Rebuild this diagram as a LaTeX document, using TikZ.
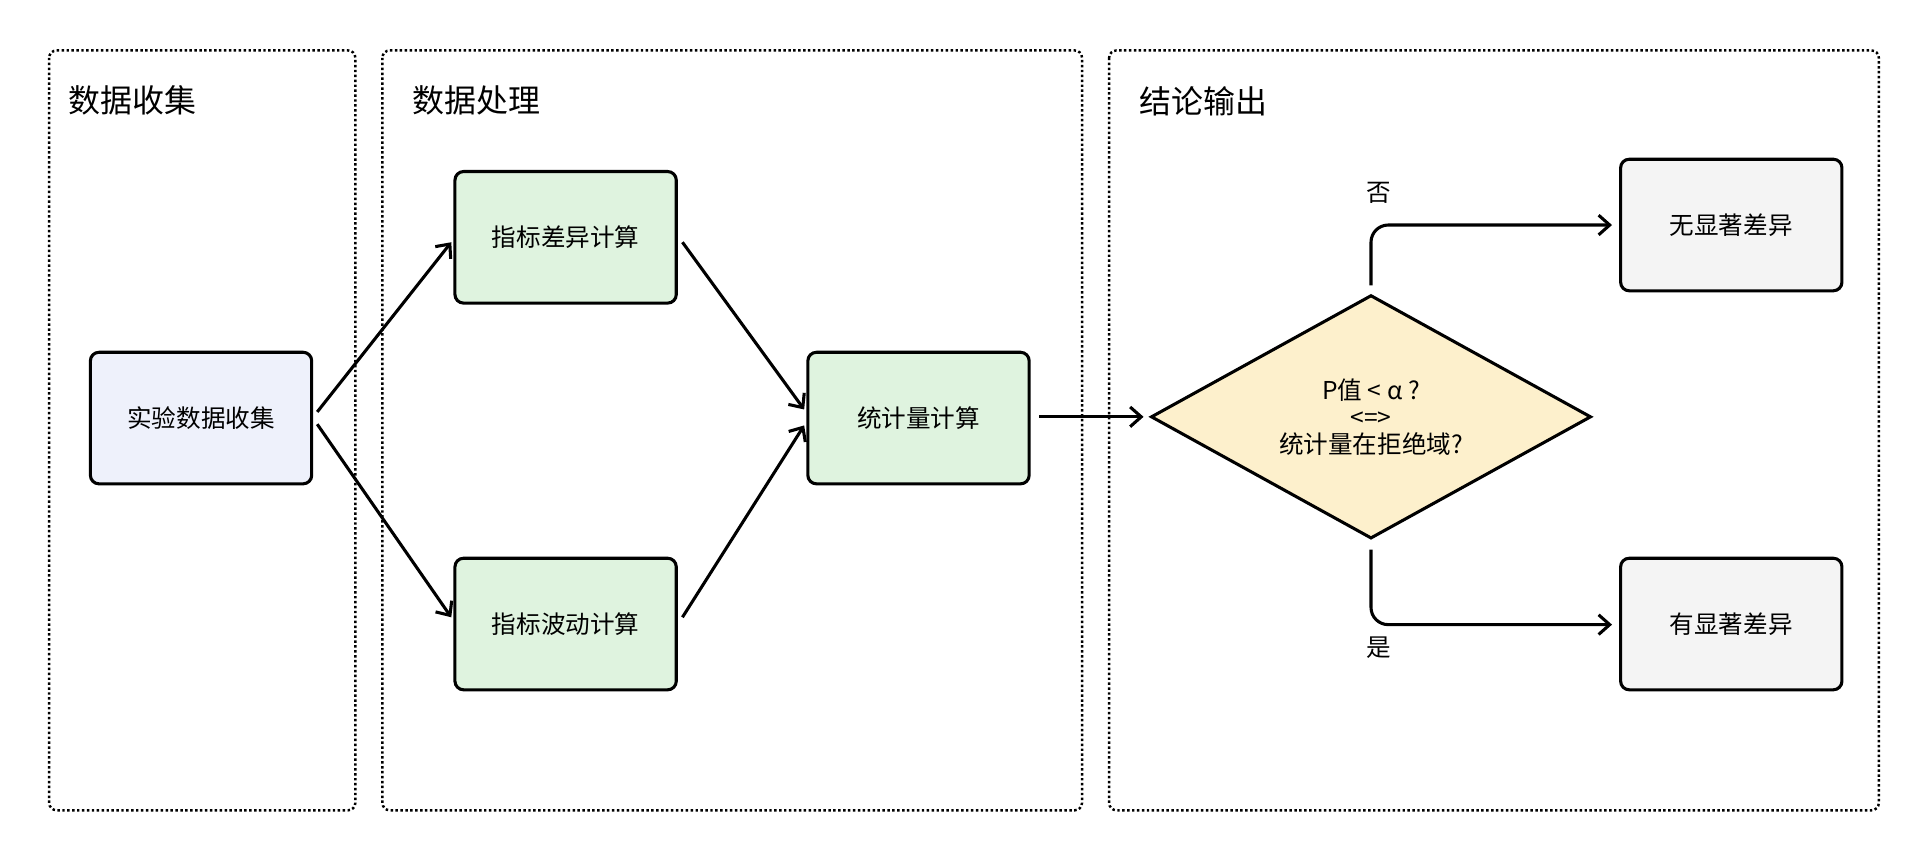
\documentclass[tikz,border=0pt]{standalone}
\usepackage{fontspec}
\setmainfont{Noto Sans CJK SC}
\usetikzlibrary{arrows.meta,shapes.geometric}
\definecolor{bluef}{HTML}{EEF1FB}
\definecolor{greenf}{HTML}{DFF3DF}
\definecolor{yellowf}{HTML}{FDF0CC}
\definecolor{grayf}{HTML}{F4F4F4}
\begin{document}
\begin{tikzpicture}[x=1pt,y=-1pt,
  panel/.style={draw,line width=2pt,dotted,rounded corners=6pt},
  ttl/.style={anchor=west,font=\fontsize{26}{30}\selectfont},
  box/.style={draw,line width=2.5pt,rounded corners=7pt,minimum width=180pt,minimum height=107pt,font=\fontsize{20}{24}\selectfont},
  arr/.style={line width=2.5pt,-{Straight Barb[length=9pt,width=16pt,line width=2.5pt]}},
  lbl/.style={font=\fontsize{20}{24}\selectfont}]
\useasboundingbox (0,0) rectangle (1568,701);
\fill[white] (0,0) rectangle (1568,701);
\draw[panel] (40,41) rectangle (289,659);
\draw[panel] (311,41) rectangle (880,659);
\draw[panel] (902,41) rectangle (1528,659);
\node[ttl] (t1) at (52,82) {数据收集};
\node[ttl] (t2) at (332,82) {数据处理};
\node[ttl] (t3) at (923,82) {结论输出};
\node[box,fill=bluef] (a) at (163.5,340) {实验数据收集};
\node[box,fill=greenf] (b) at (460,193) {指标差异计算};
\node[box,fill=greenf] (c) at (460,507.5) {指标波动计算};
\node[box,fill=greenf] (d) at (747,340) {统计量计算};
\node[draw,line width=2.5pt,fill=yellowf,diamond,aspect=1.79,minimum width=358pt,minimum height=198pt,inner sep=0pt] (e) at (1115,339) {};
\node[lbl,align=center] (et) at (1115,339) {P值 < α ?\\[-2pt]<=>\\[-2pt]统计量在拒绝域?};
\node[box,fill=grayf] (f) at (1408,183) {无显著差异};
\node[box,fill=grayf] (g) at (1408,507.5) {有显著差异};
\coordinate (a1) at (258,335);
\coordinate (a2) at (258,345);
\coordinate (d1) at (654,333);
\coordinate (d2) at (654,346);
\draw[arr] (a1) -- (367,197);
\draw[arr] (a2) -- (367,502);
\draw[arr] (555,197) -- (d1);
\draw[arr] (555,502) -- (d2);
\draw[arr] (845,339) -- (930,339);
\draw[arr,rounded corners=14pt] (1115,232) -- (1115,183) -- (1311,183);
\draw[arr,rounded corners=14pt] (1115,447) -- (1115,508) -- (1311,508);
\node[lbl] (no) at (1121,157) {否};
\node[lbl] (yes) at (1121,527) {是};
\end{tikzpicture}
\end{document}
